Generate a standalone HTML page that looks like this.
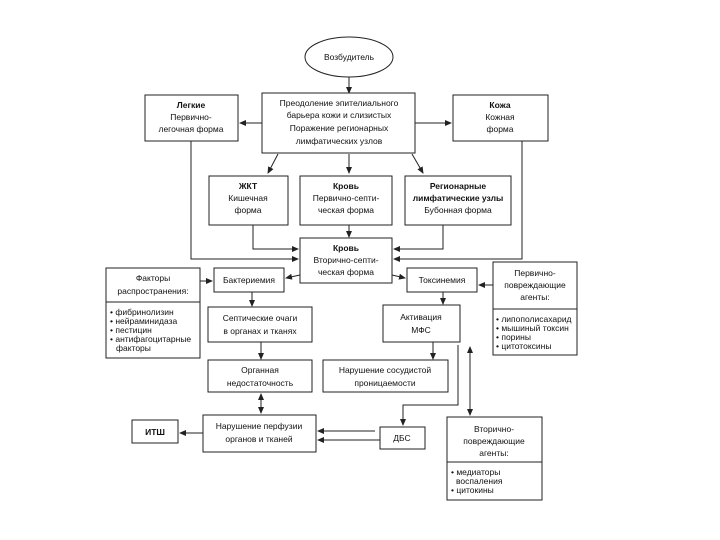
<!DOCTYPE html>
<html><head><meta charset="utf-8"><style>
html,body{margin:0;padding:0;background:#fff}
svg{display:block}
text{font-family:"Liberation Sans",sans-serif;font-size:8.5px;fill:#111}
.b{font-weight:bold}
rect,ellipse{fill:#fff;stroke:#222;stroke-width:1}
line,polyline{stroke:#222;stroke-width:1;fill:none}
</style></head><body>
<svg width="720" height="540" viewBox="0 0 720 540">
<defs><marker id="a" markerWidth="7" markerHeight="6" refX="6" refY="3" orient="auto" markerUnits="userSpaceOnUse"><path d="M0,0 L7,3 L0,6z" fill="#222"/></marker>
<marker id="s" markerWidth="7" markerHeight="6" refX="1" refY="3" orient="auto" markerUnits="userSpaceOnUse"><path d="M7,0 L0,3 L7,6z" fill="#222"/></marker></defs>

<ellipse cx="349" cy="57" rx="44" ry="20"/>
<text x="349" y="60" text-anchor="middle">Возбудитель</text>
<line x1="349" y1="77" x2="349" y2="93" marker-end="url(#a)"/>

<rect x="262" y="93" width="153" height="60"/>
<g text-anchor="middle"><text x="339" y="106">Преодоление эпителиального</text><text x="339" y="118">барьера кожи и слизистых</text><text x="339" y="131">Поражение регионарных</text><text x="339" y="144">лимфатических узлов</text></g>

<rect x="145" y="95" width="93" height="46"/>
<g text-anchor="middle"><text x="191" y="108" class="b">Легкие</text><text x="191" y="120">Первично-</text><text x="191" y="132">легочная форма</text></g>
<rect x="453" y="95" width="95" height="46"/>
<g text-anchor="middle"><text x="500" y="108" class="b">Кожа</text><text x="500" y="120">Кожная</text><text x="500" y="132">форма</text></g>
<line x1="262" y1="123" x2="240" y2="123" marker-end="url(#a)"/>
<line x1="415" y1="123" x2="451" y2="123" marker-end="url(#a)"/>

<line x1="278" y1="154" x2="268" y2="173" marker-end="url(#a)"/>
<line x1="349" y1="154" x2="349" y2="173" marker-end="url(#a)"/>
<line x1="412" y1="154" x2="423" y2="173" marker-end="url(#a)"/>

<rect x="209" y="176" width="79" height="49"/>
<g text-anchor="middle"><text x="248" y="189" class="b">ЖКТ</text><text x="248" y="201">Кишечная</text><text x="248" y="213">форма</text></g>
<rect x="300" y="176" width="92" height="49"/>
<g text-anchor="middle"><text x="346" y="189" class="b">Кровь</text><text x="346" y="201">Первично-септи-</text><text x="346" y="213">ческая форма</text></g>
<rect x="405" y="176" width="106" height="49"/>
<g text-anchor="middle"><text x="458" y="189" class="b">Регионарные</text><text x="458" y="201" class="b">лимфатические узлы</text><text x="458" y="213">Бубонная форма</text></g>

<line x1="349" y1="225" x2="349" y2="237" marker-end="url(#a)"/>
<rect x="300" y="238" width="92" height="45"/>
<g text-anchor="middle"><text x="346" y="251" class="b">Кровь</text><text x="346" y="263">Вторично-септи-</text><text x="346" y="275">ческая форма</text></g>
<polyline points="253,225 253,249 298,249" marker-end="url(#a)"/>
<polyline points="443,225 443,249 394,249" marker-end="url(#a)"/>
<polyline points="191,141 191,259 298,259" marker-end="url(#a)"/>
<polyline points="522,141 522,259 394,259" marker-end="url(#a)"/>

<rect x="106" y="268" width="94" height="90"/>
<line x1="106" y1="302" x2="200" y2="302"/>
<g text-anchor="middle"><text x="153" y="281">Факторы</text><text x="153" y="294">распространения:</text></g>
<g font-size="8"><text x="110" y="315">• фибринолизин</text><text x="110" y="324">• нейраминидаза</text><text x="110" y="333">• пестицин</text><text x="110" y="342">• антифагоцитарные</text><text x="116" y="351">факторы</text></g>
<line x1="200" y1="281" x2="212" y2="281" marker-end="url(#a)"/>

<rect x="214" y="268" width="70" height="24"/>
<text x="249" y="283" text-anchor="middle">Бактериемия</text>
<line x1="300" y1="275" x2="286" y2="278" marker-end="url(#a)"/>
<rect x="407" y="268" width="70" height="24"/>
<text x="442" y="283" text-anchor="middle">Токсинемия</text>
<line x1="392" y1="275" x2="405" y2="278" marker-end="url(#a)"/>

<rect x="493" y="262" width="84" height="93"/>
<line x1="493" y1="309" x2="577" y2="309"/>
<g text-anchor="middle"><text x="535" y="276">Первично-</text><text x="535" y="288">повреждающие</text><text x="535" y="300">агенты:</text></g>
<g font-size="8"><text x="496" y="322">• липополисахарид</text><text x="496" y="331">• мышиный токсин</text><text x="496" y="340">• порины</text><text x="496" y="349">• цитотоксины</text></g>
<line x1="493" y1="285" x2="479" y2="285" marker-end="url(#a)"/>

<line x1="252" y1="292" x2="252" y2="306" marker-end="url(#a)"/>
<rect x="208" y="307" width="104" height="35"/>
<g text-anchor="middle"><text x="260" y="321">Септические очаги</text><text x="260" y="334">в органах и тканях</text></g>
<line x1="443" y1="292" x2="443" y2="304" marker-end="url(#a)"/>
<rect x="383" y="305" width="77" height="37"/>
<g text-anchor="middle"><text x="421" y="320">Активация</text><text x="421" y="333">МФС</text></g>

<line x1="261" y1="342" x2="261" y2="359" marker-end="url(#a)"/>
<rect x="208" y="360" width="104" height="32"/>
<g text-anchor="middle"><text x="260" y="373">Органная</text><text x="260" y="386">недостаточность</text></g>
<line x1="433" y1="342" x2="433" y2="359" marker-end="url(#a)"/>
<rect x="323" y="360" width="125" height="32"/>
<g text-anchor="middle"><text x="385" y="373">Нарушение сосудистой</text><text x="385" y="386">проницаемости</text></g>

<line x1="261" y1="394" x2="261" y2="413" marker-start="url(#s)" marker-end="url(#a)"/>
<rect x="203" y="415" width="113" height="37"/>
<g text-anchor="middle"><text x="259" y="429">Нарушение перфузии</text><text x="259" y="442">органов и тканей</text></g>
<rect x="132" y="420" width="46" height="23"/>
<text x="155" y="435" text-anchor="middle" class="b">ИТШ</text>
<line x1="203" y1="433" x2="180" y2="433" marker-end="url(#a)"/>

<polyline points="458,345 458,405 403,405 403,425" marker-end="url(#a)"/>
<rect x="380" y="427" width="45" height="22"/>
<text x="402" y="441" text-anchor="middle">ДБС</text>
<line x1="375" y1="431" x2="318" y2="431" marker-end="url(#a)"/>
<line x1="380" y1="440" x2="318" y2="440" marker-end="url(#a)"/>

<line x1="470" y1="347" x2="470" y2="415" marker-start="url(#s)" marker-end="url(#a)"/>
<rect x="447" y="417" width="95" height="83"/>
<line x1="447" y1="462" x2="542" y2="462"/>
<g text-anchor="middle"><text x="494" y="432">Вторично-</text><text x="494" y="444">повреждающие</text><text x="494" y="456">агенты:</text></g>
<g font-size="8"><text x="451" y="475">• медиаторы</text><text x="456" y="484">воспаления</text><text x="451" y="493">• цитокины</text></g>
</svg>
</body></html>
